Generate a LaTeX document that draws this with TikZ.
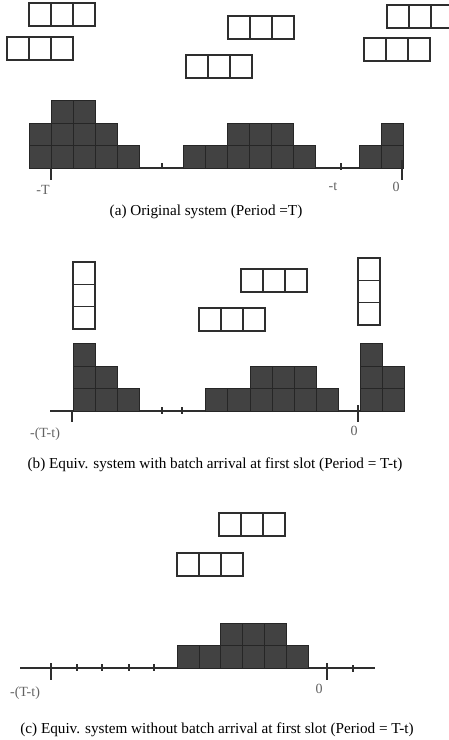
\documentclass[tikz,border=0pt]{standalone}
\usepackage{fontspec}
\setmainfont{Liberation Serif}
\usepackage{tikz}
\usetikzlibrary{positioning}

% one row / one column of three empty slots, top-left corner given
\newcommand{\slotrow}[2]{\foreach \k in {0,1,2} \draw[slot] ({#1+22*\k},#2) rectangle ++(22,23);}
\newcommand{\slotcol}[2]{\foreach \k in {0,1,2} \draw[slot] (#1,{#2+22.3*\k}) rectangle ++(22,22.3);}

\begin{document}
\begin{tikzpicture}[x=1pt,y=-1pt,
		cell/.style={fill=black!74, draw=black!85, line width=0.6pt},
		slot/.style={draw=black!82, line width=1.2pt},
		axis/.style={black!82, line width=1.1pt},
		tickmark/.style={black!82, line width=1.1pt},
		lbl/.style={text=black!62, inner sep=0pt, font=\fontsize{14}{14}\selectfont},
		captext/.style={inner sep=0pt, font=\fontsize{15.2}{17}\selectfont}]
	
	\clip (0,0) rectangle (449,740);
	
	%--- Panel (a): original system ---
	\slotrow{29}{3}
	\slotrow{7}{37}
	\slotrow{228}{16}
	\slotrow{186}{55}
	\slotrow{387}{5}
	\slotrow{364}{38}
	\draw[axis] (29,168) -- (402,168);
	\begin{scope}[shift={(29,168)}]
		\foreach \i/\h in {0/2,1/3,2/3,3/2,4/1,7/1,8/1,9/2,10/2,11/2,12/1,15/1,16/2}
		\foreach \k in {1,...,\h}
		\draw[cell] ({22*\i},{-22.5*(\k-1)}) rectangle ++(22,-22.5);
	\end{scope}
	\draw[tickmark] (51,168) -- (51,180);
	\draw[tickmark] (162,163) -- (162,168);
	\draw[tickmark] (341,163) -- (341,170);
	\draw[tickmark] (402,160) -- (402,180);
	\node[lbl] (aT) at (43,190) {-T};
	\node[lbl] (at) at (333,187) {-t};
	\node[lbl] (a0) at (396,187) {0};
	\node[captext] (capa) at (206,212) {(a) Original system (Period =T)};
	
	%--- Panel (b): batch arrival at first slot ---
	\slotcol{73}{262}
	\slotrow{241}{269}
	\slotrow{199}{308}
	\slotcol{358}{258}
	\draw[axis] (50,411) -- (405,411);
	\begin{scope}[shift={(73,411)}]
		\foreach \i/\h in {0/3,1/2,2/1,6/1,7/1,8/2,9/2,10/2,11/1,13/3,14/2}
		\foreach \k in {1,...,\h}
		\draw[cell] ({22.1*\i},{-22.6*(\k-1)}) rectangle ++(22.1,-22.6);
	\end{scope}
	\draw[tickmark] (72,411) -- (72,422);
	\draw[tickmark] (162,407) -- (162,414);
	\draw[tickmark] (182,407) -- (182,414);
	\draw[tickmark] (358,405) -- (358,422);
	\node[lbl] (bT) at (45,434) {-(T-t)};
	\node[lbl] (b0) at (354,431) {0};
	\node[captext] (capb) at (215,465) {(b) Equiv. system with batch arrival at first slot (Period = T-t)};
	
	%--- Panel (c): no batch arrival ---
	\slotrow{219}{513}
	\slotrow{177}{553}
	\draw[axis] (20,668) -- (375,668);
	\begin{scope}[shift={(177,668)}]
		\foreach \i/\h in {0/1,1/1,2/2,3/2,4/2,5/1}
		\foreach \k in {1,...,\h}
		\draw[cell] ({21.8*\i},{-22.6*(\k-1)}) rectangle ++(21.8,-22.6);
	\end{scope}
	\draw[tickmark] (51,663) -- (51,680);
	\foreach \x in {77,102,129,154}
	\draw[tickmark] (\x,664) -- (\x,671);
	\draw[tickmark] (327,663) -- (327,680);
	\draw[tickmark] (353,665) -- (353,672);
	\node[lbl] (cT) at (25,693) {-(T-t)};
	\node[lbl] (c0) at (319,689) {0};
	\node[captext] (capc) at (217,730) {(c) Equiv. system without batch arrival at first slot (Period = T-t)};
\end{tikzpicture}
\end{document}
